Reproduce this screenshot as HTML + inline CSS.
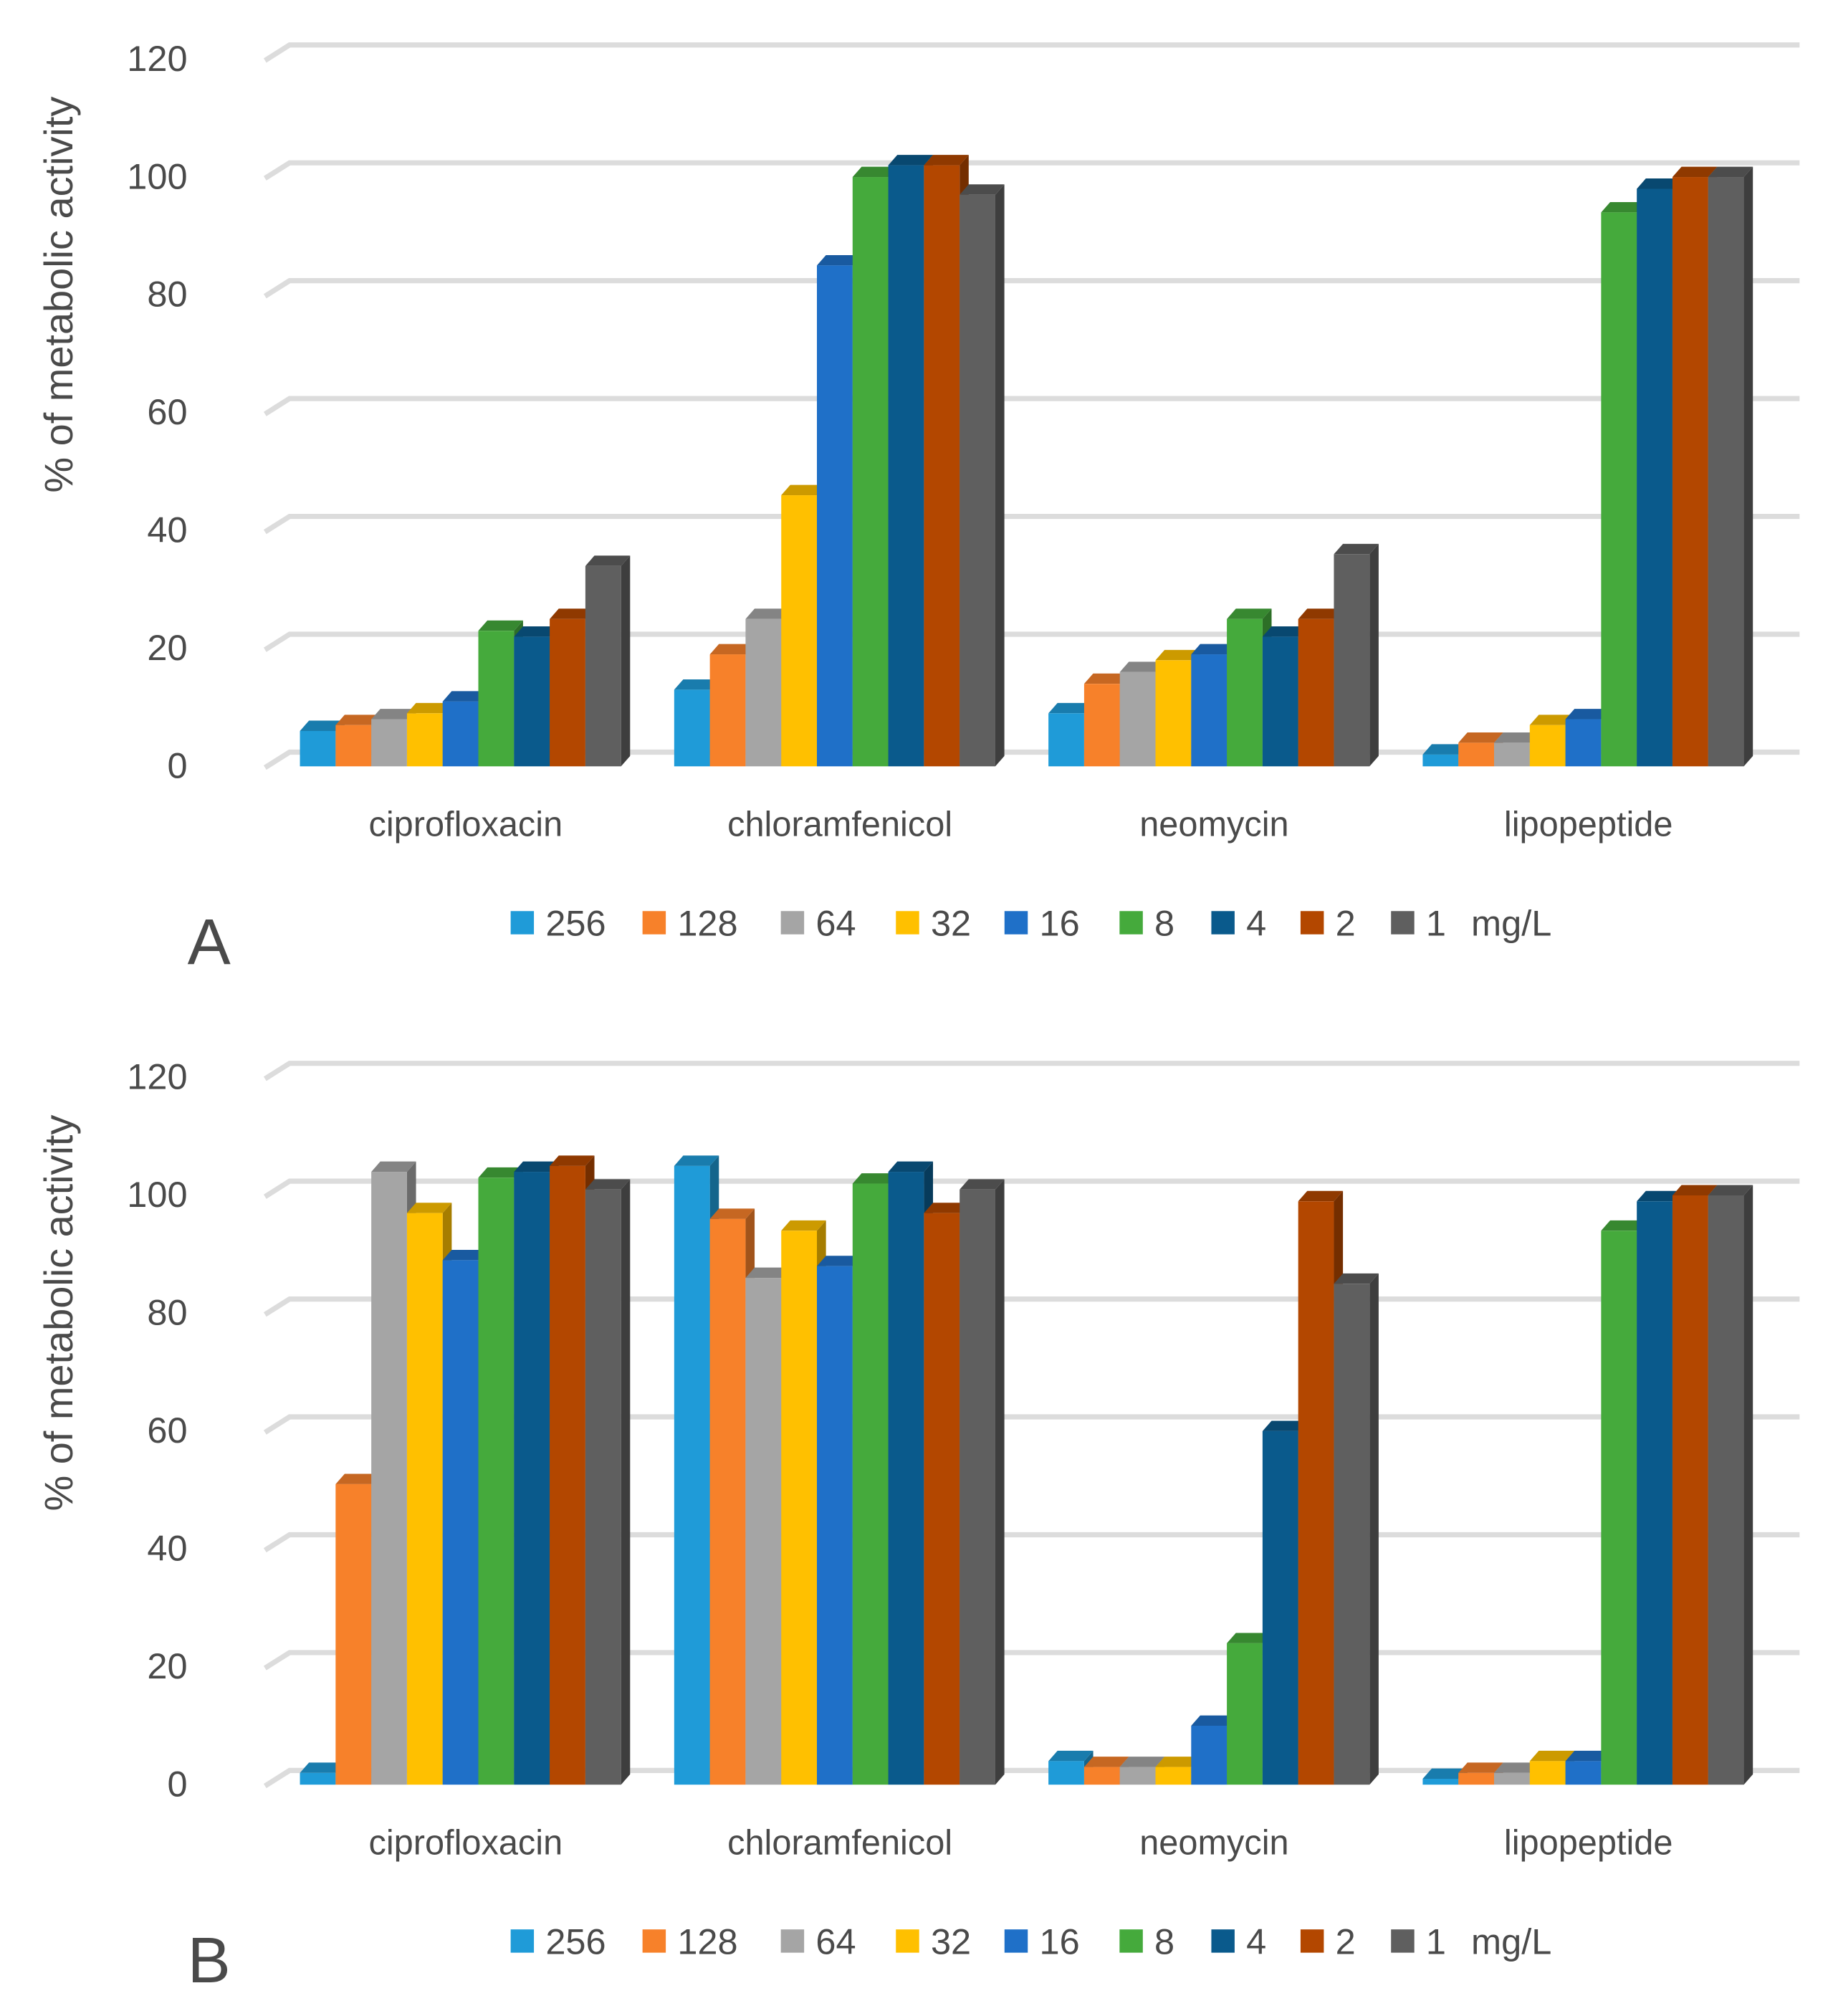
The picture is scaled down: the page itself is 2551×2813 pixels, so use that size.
<!DOCTYPE html>
<html><head><meta charset="utf-8"><style>
html,body{margin:0;padding:0;background:#fff;width:2551px;height:2813px;overflow:hidden}
svg{display:block}
text{font-family:"Liberation Sans",sans-serif;fill:#4a4a4a}
</style></head><body>
<svg id="root" width="2551" height="2813" viewBox="0 0 1414 1560" preserveAspectRatio="none" xmlns="http://www.w3.org/2000/svg"></svg>
<script>
const categories = ["ciprofloxacin","chloramfenicol","neomycin","lipopeptide"];
const seriesNames = ["256","128","64","32","16","8","4","2","1"];
const seriesColors = ["#1f9bd8","#f7812a","#a5a5a5","#ffc000","#1f70c8","#45aa3c","#0a5a8c","#b34700","#5f5f5f"];
const yTicks = [0,20,40,60,80,100,120];
const valuesA = [
 [6,7,8,9,11,23,22,25,34],
 [13,19,25,46,85,100,102,102,97],
 [9,14,16,18,19,25,22,25,36],
 [2,4,4,7,8,94,98,100,100]
];
const valuesB = [
 [2,51,104,97,89,103,104,105,101],
 [105,96,86,94,88,102,104,97,101],
 [4,3,3,3,10,24,60,99,85],
 [1,2,2,4,4,94,99,100,100]
];
const NS="http://www.w3.org/2000/svg";
const root=document.getElementById('root');
function el(tag,attrs,parent){const e=document.createElementNS(NS,tag);for(const k in attrs)e.setAttribute(k,attrs[k]);(parent||root).appendChild(e);return e;}
function shade(hex,f){const n=parseInt(hex.slice(1),16);let r=(n>>16)&255,g=(n>>8)&255,b=n&255;r=Math.round(r*f);g=Math.round(g*f);b=Math.round(b*f);return `rgb(${r},${g},${b})`;}

function drawChart(vals,top,letter,name){
  const g=el('g',{});
  
  
  const base=top+553;
  const unit=4.56;
  const yv=v=>base-v*unit;
  const dx=7,dy=-8;
  yTicks.forEach(t=>{
    const y=yv(t)+dy-3;
    const gl=el('path',{d:`M205 ${y+12} L224 ${y} L1392 ${y}`,stroke:'#dcdcdc','stroke-width':4,fill:'none'},g);
    
    
    const tl=el('text',{x:145,y:yv(t)+9,'font-size':28,'text-anchor':'end'},g);
    tl.textContent=t;
    
    
  });
  const at=el('text',{transform:`translate(56 ${top+188}) rotate(-90)`,'font-size':31,'text-anchor':'middle',fill:'#333'},g);
  at.textContent='% of metabolic activity';
  
  
  const bw=27.6;
  categories.forEach((c,ci)=>{
    const gx=232+ci*289.5;
    vals[ci].forEach((v,si)=>{
      const x=gx+si*bw, y=yv(v), col=seriesColors[si];
      const bg=el('g',{},g);
      
      
      el('polygon',{points:`${x+bw},${y} ${x+bw+dx},${y+dy} ${x+bw+dx},${base+dy} ${x+bw},${base}`,fill:shade(col,0.65)},bg);
      el('polygon',{points:`${x},${y} ${x+dx},${y+dy} ${x+bw+dx},${y+dy} ${x+bw},${y}`,fill:shade(col,0.8)},bg);
      el('rect',{x:x,y:y,width:bw,height:base-y,fill:col},bg);
    });
    const cl=el('text',{x:gx+bw*4.5+4,y:base+54,'font-size':27,'text-anchor':'middle'},g);
    cl.textContent=c;
    
    
  });
  const lx=[395,497,604,693,777,866,937,1006,1076];
  const ly=base+131;
  seriesNames.forEach((s,i)=>{
    const lg=el('g',{},g);
    
    
    el('rect',{x:lx[i],y:ly-19,width:18,height:18,fill:seriesColors[i]},lg);
    const t=el('text',{x:lx[i]+27,y:ly,'font-size':28},lg);
    t.textContent=s;
  });
  const mg=el('text',{x:1138,y:ly,'font-size':28,fill:'#202020'},g);
  mg.textContent='mg/L';
  
  
  const L=el('text',{x:145,y:ly+22,'font-size':50,fill:'#000'},g);
  L.textContent=letter;
  
  
}
drawChart(valuesA,40,'A','chart-a');
drawChart(valuesB,828,'B','chart-b');
</script>
</body></html>
